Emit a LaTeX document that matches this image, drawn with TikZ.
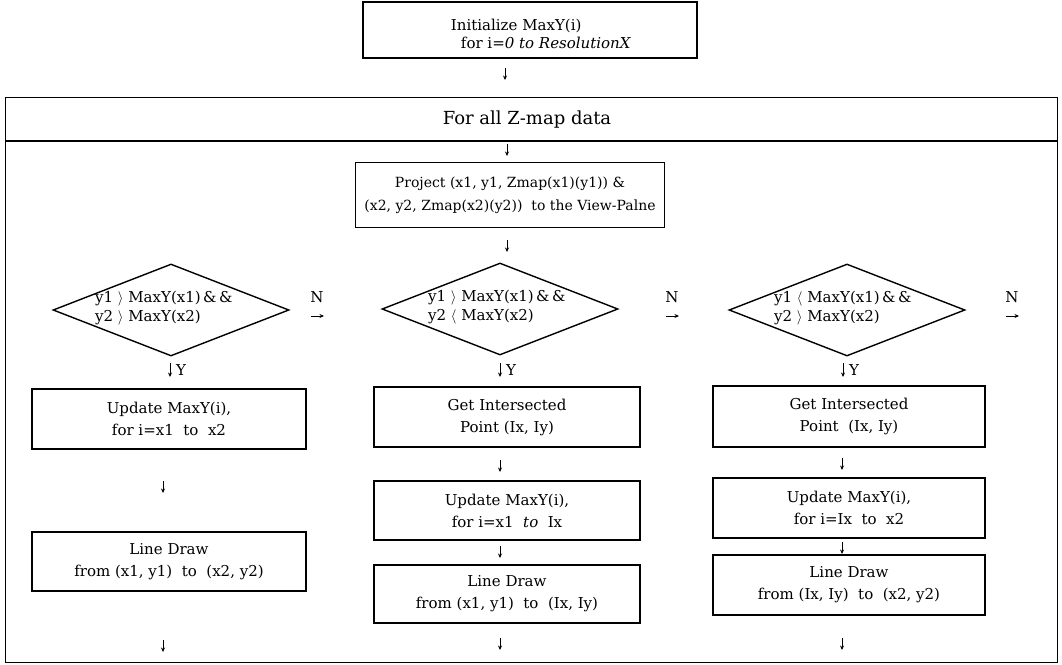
\documentclass[tikz,border=0pt]{standalone}
\usepackage{fontspec}
\setmainfont{DejaVu Serif}
\usetikzlibrary{shapes.geometric,arrows.meta}
\begin{document}
\begin{tikzpicture}[x=1pt,y=-1pt,
  every node/.style={font=\fontsize{15}{22}\selectfont},
  procbox/.style={draw,line width=1.4pt,align=center,inner sep=0pt},
  testshape/.style={draw,line width=1.4pt,shape=diamond,inner sep=0pt,
    minimum width=236pt,minimum height=92pt},
  testtext/.style={align=left,anchor=west,inner sep=0pt,
    font=\fontsize{15}{19}\selectfont},
  tick/.style={line width=1pt,-{Stealth[length=4.5pt,width=4pt]}},
  frame/.style={line width=1.4pt}]
\useasboundingbox (0,0) rectangle (1062,664);

% initialisation
\node[procbox,minimum width=334pt,minimum height=56pt] (init) at (530,30) {};
\node[align=left,inner sep=0pt,font=\fontsize{15}{18}\selectfont] (inittxt) at (541,34)
  {Initialize MaxY(i)\\\hspace*{10pt}for i=\textit{0 to ResolutionX}};

% outer loop frame
\node[draw,frame,minimum width=1052pt,minimum height=565pt,anchor=north west] (loop) at (5,97) {};
\coordinate (hl) at (5,141);
\coordinate (hr) at (1057,141);
\draw[frame] (hl) -- (hr);
\node[font=\fontsize{18}{22}\selectfont] (head) at (527,120) {For all Z-map data};

% projection
\node[procbox,minimum width=309pt,minimum height=65pt,font=\fontsize{14}{23}\selectfont] (proj) at (510,195)
  {Project (x1, y1, Zmap(x1)(y1)) \&\\(x2, y2, Zmap(x2)(y2))\ \ to the View-Palne};

% tests
\node[testshape] (d1) at (171,310) {};
\node[testshape] (d2) at (500,309) {};
\node[testshape] (d3) at (847,310) {};
\node[testtext] (t1) at (95,308) {y1 $\rangle$ MaxY(x1)\,\&\,\&\\y2 $\rangle$ MaxY(x2)};
\node[testtext] (t2) at (428,307) {y1 $\rangle$ MaxY(x1)\,\&\,\&\\y2 $\langle$ MaxY(x2)};
\node[testtext] (t3) at (774,308) {y1 $\langle$ MaxY(x1)\,\&\,\&\\y2 $\rangle$ MaxY(x2)};

% "no" branches
\foreach \n/\x in {n1/317,n2/672,n3/1012}{
  \node (\n) at (\x,297) {N};
  \coordinate (\n s) at (\x-6,316);
  \coordinate (\n e) at (\x+7,316);
  \draw[tick] (\n s) -- (\n e);
}

% "yes" branches
\foreach \n/\x in {y1/170,y2/500,y3/843}{
  \coordinate (\n s) at (\x,363);
  \coordinate (\n e) at (\x,377);
  \draw[tick] (\n s) -- (\n e);
  \node (\n l) at (\x+11,370) {Y};
}

% first column
\node[procbox,minimum width=274pt,minimum height=60pt] (b11) at (169,419)
  {Update MaxY(i),\\for i=x1\ \ to\ \ x2};
\node[procbox,minimum width=274pt,minimum height=59pt] (b12) at (169,561.5)
  {Line Draw\\from (x1, y1)\ \ to\ \ (x2, y2)};

% second column
\node[procbox,minimum width=266pt,minimum height=60pt] (b21) at (507,417)
  {Get Intersected\\Point (Ix, Iy)};
\node[procbox,minimum width=266pt,minimum height=59pt] (b22) at (507,510.5)
  {Update MaxY(i),\\for i=x1\ \ \textit{to}\ \ Ix};
\node[procbox,minimum width=266pt,minimum height=58pt] (b23) at (507,594)
  {Line Draw\\from (x1, y1)\ \ to\ \ (Ix, Iy)};

% third column
\node[procbox,minimum width=272pt,minimum height=61pt] (b31) at (849,416.5)
  {Get Intersected\\Point\ \ (Ix, Iy)};
\node[procbox,minimum width=272pt,minimum height=60pt] (b32) at (849,508)
  {Update MaxY(i),\\for i=Ix\ \ to\ \ x2};
\node[procbox,minimum width=272pt,minimum height=60pt] (b33) at (849,585)
  {Line Draw\\from (Ix, Iy)\ \ to\ \ (x2, y2)};

% flow ticks
\foreach \n/\x/\y in {a0/505/68, a1/507/144, a2/507/240,
    c1/163/481, c2/163/640,
    e1/500/460, e2/500/546, e3/500/638,
    f1/842/458, f2/842/542, f3/842/638}{
  \coordinate (\n s) at (\x,\y);
  \coordinate (\n e) at (\x,\y+12);
  \draw[tick] (\n s) -- (\n e);
}
\end{tikzpicture}
\end{document}
